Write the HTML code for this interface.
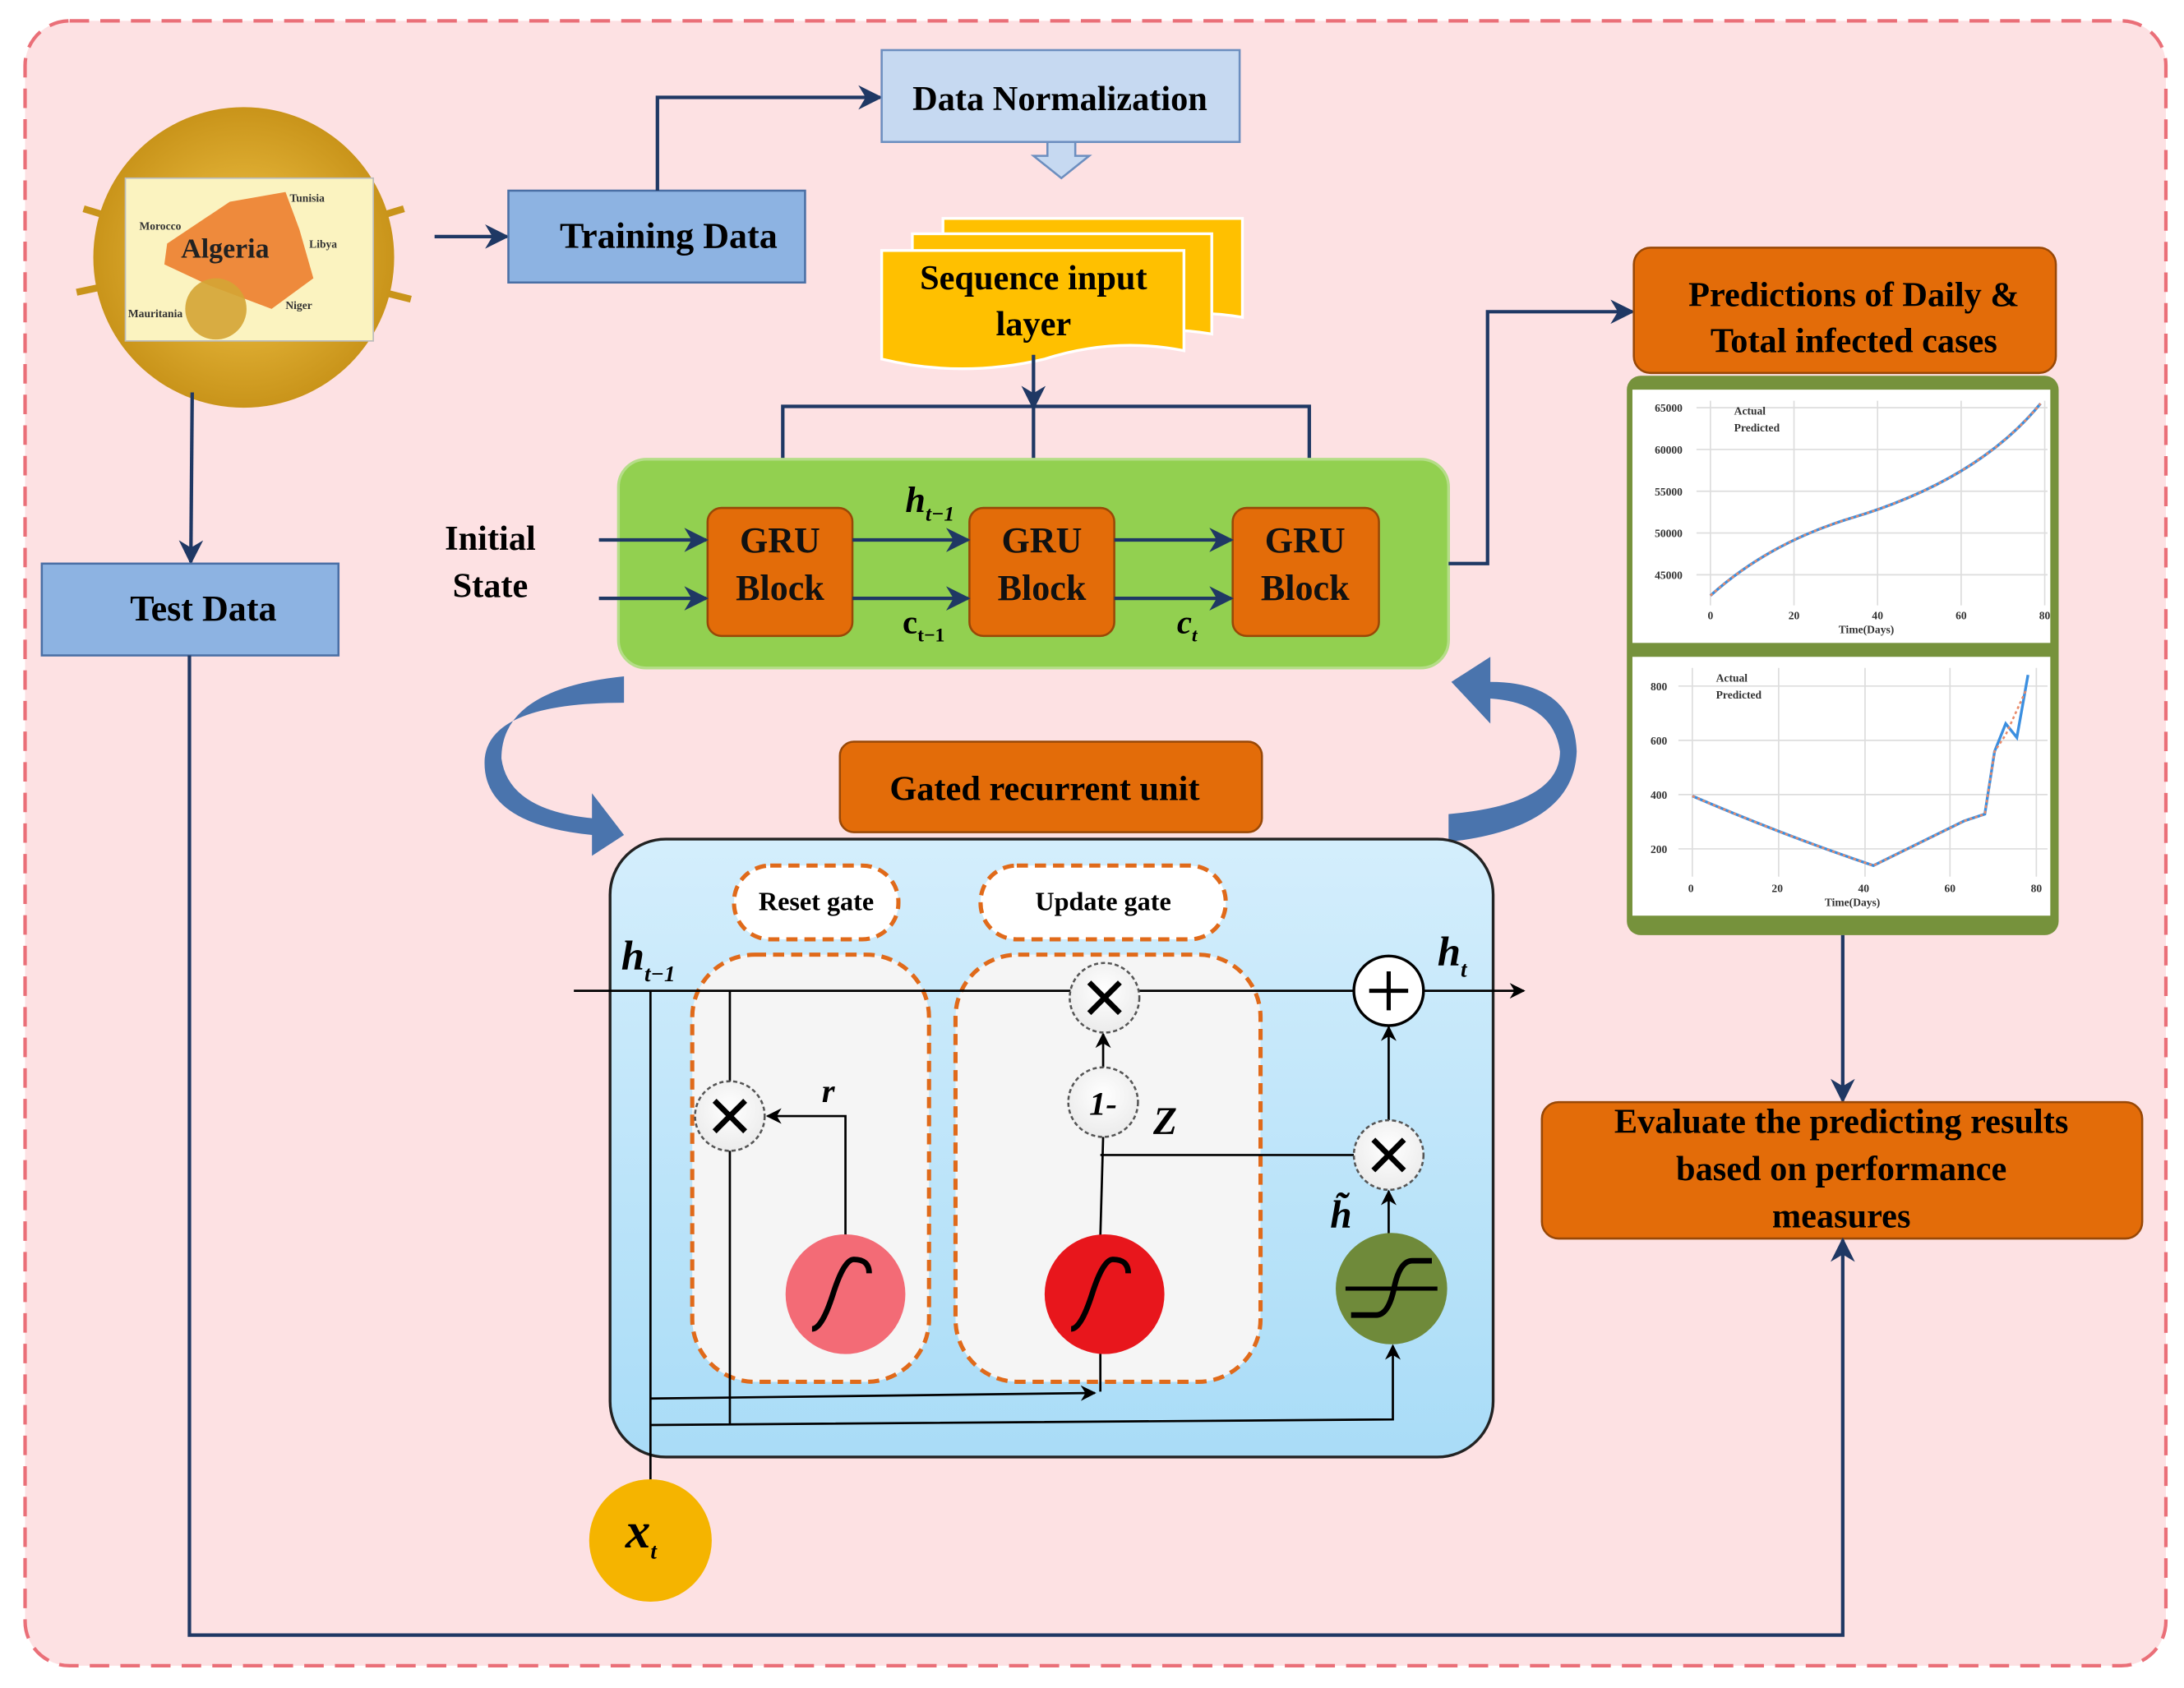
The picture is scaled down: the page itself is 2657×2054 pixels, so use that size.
<!DOCTYPE html>
<html><head><meta charset="utf-8"><style>
html,body{margin:0;padding:0;background:#fff;}
svg{display:block;}
text{font-family:"Liberation Serif",serif;font-weight:bold;}
</style></head><body>
<svg width="2657" height="2054" viewBox="0 0 1568 1213" preserveAspectRatio="none" xmlns="http://www.w3.org/2000/svg">
<defs>
<marker id="ar" viewBox="0 0 10 10" refX="9" refY="5" markerWidth="7" markerHeight="7" orient="auto"><path d="M0,0 L10,5 L0,10 L3,5 z" fill="#1f3864"/></marker>
<marker id="ak" viewBox="0 0 10 10" refX="9" refY="5" markerWidth="7" markerHeight="7" orient="auto"><path d="M0,0 L10,5 L0,10 L3,5 z" fill="#000"/></marker>
<linearGradient id="gb" x1="0" y1="0" x2="0" y2="1"><stop offset="0" stop-color="#d4eefc"/><stop offset="1" stop-color="#a9dcf7"/></linearGradient>
<radialGradient id="gw" cx="0.5" cy="0.4" r="0.7"><stop offset="0" stop-color="#fff"/><stop offset="1" stop-color="#e8e8e8"/></radialGradient>
<radialGradient id="vir" cx="0.5" cy="0.5" r="0.5"><stop offset="0" stop-color="#f3c64a"/><stop offset="1" stop-color="#c9941a"/></radialGradient>
</defs>
<rect x="18" y="15" width="1537" height="1182" rx="32" fill="#fde1e3" stroke="#ea6f78" stroke-width="2.5" stroke-dasharray="14,8"/>

<!-- virus map -->
<g stroke="#c9941a" stroke-width="5">
<line x1="175" y1="185" x2="60" y2="150"/><line x1="175" y1="185" x2="290" y2="150"/><line x1="175" y1="185" x2="55" y2="210"/><line x1="175" y1="185" x2="295" y2="215"/><line x1="175" y1="185" x2="140" y2="95"/><line x1="175" y1="185" x2="230" y2="100"/><line x1="175" y1="185" x2="120" y2="270"/><line x1="175" y1="185" x2="235" y2="272"/>
</g>
<circle cx="175" cy="185" r="108" fill="url(#vir)"/>
<rect x="90" y="128" width="178" height="117" fill="#fbf3c0" stroke="#bbb"/>
<path d="M120,175 L165,145 L205,138 L215,165 L225,200 L195,222 L150,205 L118,190 z" fill="#ee8a3c"/>
<circle cx="155" cy="222" r="22" fill="#d4a434" opacity="0.9"/>
<text x="130" y="185" font-size="20" fill="#222">Algeria</text>
<text x="100" y="165" font-size="8" font-weight="normal" fill="#333">Morocco</text>
<text x="222" y="178" font-size="8" font-weight="normal" fill="#333">Libya</text>
<text x="92" y="228" font-size="8" font-weight="normal" fill="#333">Mauritania</text>
<text x="205" y="222" font-size="8" font-weight="normal" fill="#333">Niger</text>
<text x="208" y="145" font-size="8" font-weight="normal" fill="#333">Tunisia</text>

<line x1="312" y1="170" x2="364" y2="170" stroke="#1f3864" stroke-width="2.5" marker-end="url(#ar)"/>
<rect x="365" y="137" width="213" height="66" fill="#8db3e2" stroke="#4a6fa5" stroke-width="1.5"/>
<text x="480" y="178" font-size="26" text-anchor="middle">Training Data</text>
<polyline points="472,137 472,70 632,70" fill="none" stroke="#1f3864" stroke-width="2.5" marker-end="url(#ar)"/>
<rect x="633" y="36" width="257" height="66" fill="#c6d9f1" stroke="#6c8ebf" stroke-width="1.5"/>
<text x="761" y="79" font-size="25" text-anchor="middle">Data Normalization</text>
<path d="M752,102 L772,102 L772,112 L782,112 L762,128 L742,112 L752,112 z" fill="#c6d9f1" stroke="#6c8ebf" stroke-width="1.5"/>

<!-- sequence input -->
<path d="M677,157 L892,157 L892,228 Q845,220 800,235 Q740,248 677,235 z" fill="#ffc000" stroke="#fff" stroke-width="2"/>
<path d="M655,168 L870,168 L870,240 Q823,232 778,247 Q718,260 655,247 z" fill="#ffc000" stroke="#fff" stroke-width="2"/>
<path d="M633,180 L850,180 L850,252 Q800,242 750,258 Q690,272 633,258 z" fill="#ffc000" stroke="#fff" stroke-width="2"/>
<text x="742" y="208" font-size="25" text-anchor="middle">Sequence input</text>
<text x="742" y="241" font-size="25" text-anchor="middle">layer</text>
<line x1="742" y1="255" x2="742" y2="293" stroke="#1f3864" stroke-width="2.5" marker-end="url(#ar)"/>
<polyline points="562,365 562,292 940,292 940,365" fill="none" stroke="#1f3864" stroke-width="2.5"/>
<line x1="742" y1="292" x2="742" y2="365" stroke="#1f3864" stroke-width="2.5"/>

<!-- green -->
<rect x="444" y="330" width="596" height="150" rx="20" fill="#92d050" stroke="#b5dd88" stroke-width="2"/>
<g fill="#e36c09" stroke="#984807" stroke-width="1.5">
<rect x="508" y="365" width="104" height="92" rx="10"/><rect x="696" y="365" width="104" height="92" rx="10"/><rect x="885" y="365" width="105" height="92" rx="10"/>
</g>
<g font-size="26" text-anchor="middle" fill="#111">
<text x="560" y="397">GRU</text><text x="560" y="431">Block</text>
<text x="748" y="397">GRU</text><text x="748" y="431">Block</text>
<text x="937" y="397">GRU</text><text x="937" y="431">Block</text>
</g>
<g stroke="#1f3864" stroke-width="2.5" marker-end="url(#ar)">
<line x1="430" y1="388" x2="507" y2="388"/><line x1="430" y1="430" x2="507" y2="430"/>
<line x1="612" y1="388" x2="695" y2="388"/><line x1="612" y1="430" x2="695" y2="430"/>
<line x1="800" y1="388" x2="884" y2="388"/><line x1="800" y1="430" x2="884" y2="430"/>
</g>
<text x="352" y="395" font-size="25" text-anchor="middle">Initial</text>
<text x="352" y="429" font-size="25" text-anchor="middle">State</text>
<text x="650" y="368" font-size="26" font-style="italic" font-weight="normal">h<tspan font-size="15" dy="6">t−1</tspan></text>
<text x="648" y="455" font-size="24" font-weight="normal">c<tspan font-size="14" dy="6">t−1</tspan></text>
<text x="845" y="455" font-size="24" font-style="italic" font-weight="normal">c<tspan font-size="14" dy="6">t</tspan></text>

<polyline points="1040,405 1068,405 1068,224 1172,224" fill="none" stroke="#1f3864" stroke-width="2.5" marker-end="url(#ar)"/>
<rect x="1173" y="178" width="303" height="90" rx="12" fill="#e36c09" stroke="#984807" stroke-width="1.5"/>
<text x="1331" y="220" font-size="25" text-anchor="middle">Predictions of Daily &amp;</text>
<text x="1331" y="253" font-size="25" text-anchor="middle">Total infected cases</text>

<!-- charts -->
<rect x="1168" y="270" width="310" height="402" rx="10" fill="#76923c"/>
<rect x="1172" y="280" width="300" height="182" fill="#fff"/>
<rect x="1172" y="472" width="300" height="186" fill="#fff"/>
<g stroke="#ddd" stroke-width="1">
<line x1="1228" y1="288" x2="1228" y2="435"/><line x1="1288" y1="288" x2="1288" y2="435"/><line x1="1348" y1="288" x2="1348" y2="435"/><line x1="1408" y1="288" x2="1408" y2="435"/><line x1="1468" y1="288" x2="1468" y2="435"/>
<line x1="1218" y1="293" x2="1470" y2="293"/><line x1="1218" y1="323" x2="1470" y2="323"/><line x1="1218" y1="353" x2="1470" y2="353"/><line x1="1218" y1="383" x2="1470" y2="383"/><line x1="1218" y1="413" x2="1470" y2="413"/>
<line x1="1215" y1="480" x2="1215" y2="630"/><line x1="1277" y1="480" x2="1277" y2="630"/><line x1="1339" y1="480" x2="1339" y2="630"/><line x1="1400" y1="480" x2="1400" y2="630"/><line x1="1462" y1="480" x2="1462" y2="630"/>
<line x1="1205" y1="493" x2="1470" y2="493"/><line x1="1205" y1="532" x2="1470" y2="532"/><line x1="1205" y1="571" x2="1470" y2="571"/><line x1="1205" y1="610" x2="1470" y2="610"/>
</g>
<path d="M1228,428 Q1270,390 1330,372 Q1420,345 1465,290" fill="none" stroke="#3b8fe0" stroke-width="2"/>
<path d="M1228,428 Q1270,390 1330,372 Q1420,345 1465,290" fill="none" stroke="#e88a6a" stroke-width="1.5" stroke-dasharray="2,2"/>
<path d="M1215,572 Q1280,600 1345,622 Q1390,600 1410,590 L1425,585 L1432,540 L1440,520 L1448,530 L1456,485" fill="none" stroke="#3b8fe0" stroke-width="2"/>
<path d="M1215,572 Q1280,600 1345,622 Q1390,600 1410,590 L1425,585 L1432,540 L1440,528 L1455,495" fill="none" stroke="#e88a6a" stroke-width="1.5" stroke-dasharray="2,2"/>
<g font-family="Liberation Sans" font-size="8" font-weight="normal" fill="#333">
<text x="1188" y="296">65000</text><text x="1188" y="326">60000</text><text x="1188" y="356">55000</text><text x="1188" y="386">50000</text><text x="1188" y="416">45000</text>
<text x="1226" y="445">0</text><text x="1284" y="445">20</text><text x="1344" y="445">40</text><text x="1404" y="445">60</text><text x="1464" y="445">80</text>
<text x="1320" y="455">Time(Days)</text><text x="1245" y="298">Actual</text><text x="1245" y="310">Predicted</text>
<text x="1185" y="496">800</text><text x="1185" y="535">600</text><text x="1185" y="574">400</text><text x="1185" y="613">200</text>
<text x="1212" y="641">0</text><text x="1272" y="641">20</text><text x="1334" y="641">40</text><text x="1396" y="641">60</text><text x="1458" y="641">80</text>
<text x="1310" y="651">Time(Days)</text><text x="1232" y="490">Actual</text><text x="1232" y="502">Predicted</text>
</g>

<line x1="1323" y1="672" x2="1323" y2="791" stroke="#1f3864" stroke-width="2.5" marker-end="url(#ar)"/>
<rect x="1107" y="792" width="431" height="98" rx="12" fill="#e36c09" stroke="#984807" stroke-width="1.5"/>
<text x="1322" y="814" font-size="25" text-anchor="middle">Evaluate the predicting results</text>
<text x="1322" y="848" font-size="25" text-anchor="middle">based on performance</text>
<text x="1322" y="882" font-size="25" text-anchor="middle">measures</text>

<line x1="138" y1="282" x2="137" y2="404" stroke="#1f3864" stroke-width="2.5" marker-end="url(#ar)"/>
<rect x="30" y="405" width="213" height="66" fill="#8db3e2" stroke="#4a6fa5" stroke-width="1.5"/>
<text x="146" y="446" font-size="26" text-anchor="middle">Test Data</text>
<polyline points="136,471 136,1175 1323,1175 1323,891" fill="none" stroke="#1f3864" stroke-width="2.5" marker-end="url(#ar)"/>

<!-- curved arrows -->
<path d="M448,486 Q360,495 360,545 Q365,582 425,588 L425,570 L448,600 L425,615 L425,600 Q345,592 348,545 Q352,505 448,505 z" fill="#4a74ad"/>
<path d="M1040,585 Q1120,578 1120,540 Q1115,505 1070,502 L1070,520 L1042,490 L1070,472 L1070,490 Q1130,490 1132,540 Q1130,595 1040,605 z" fill="#4a74ad"/>

<rect x="603" y="533" width="303" height="65" rx="10" fill="#e36c09" stroke="#984807" stroke-width="1.5"/>
<text x="750" y="575" font-size="25" text-anchor="middle">Gated recurrent unit</text>

<!-- GRU cell -->
<rect x="438" y="603" width="634" height="444" rx="40" fill="url(#gb)" stroke="#222" stroke-width="2"/>
<rect x="527" y="622" width="118" height="53" rx="26" fill="#fff" stroke="#e06a1a" stroke-width="3" stroke-dasharray="8,5"/>
<rect x="704" y="622" width="176" height="53" rx="26" fill="#fff" stroke="#e06a1a" stroke-width="3" stroke-dasharray="8,5"/>
<text x="586" y="654" font-size="19" text-anchor="middle">Reset gate</text>
<text x="792" y="654" font-size="19" text-anchor="middle">Update gate</text>
<rect x="497" y="686" width="170" height="307" rx="45" fill="#f5f5f5" stroke="#e06a1a" stroke-width="3" stroke-dasharray="8,5"/>
<rect x="686" y="686" width="219" height="307" rx="45" fill="#f5f5f5" stroke="#e06a1a" stroke-width="3" stroke-dasharray="8,5"/>

<g stroke="#000" stroke-width="1.6" fill="none">
<line x1="412" y1="712" x2="1094" y2="712" marker-end="url(#ak)"/>
<line x1="467" y1="1065" x2="467" y2="712"/>
<line x1="524" y1="712" x2="524" y2="1024"/>
<line x1="467" y1="1005" x2="786" y2="1001" marker-end="url(#ak)"/>
<polyline points="467,1024 1000,1020 1000,967" marker-end="url(#ak)"/>
<polyline points="607,888 607,802 551,802" marker-end="url(#ak)"/>
<line x1="790" y1="888" x2="790" y2="1000"/>
<line x1="790" y1="888" x2="792" y2="817"/>
<line x1="792" y1="767" x2="792" y2="743" marker-end="url(#ak)"/>
<line x1="790" y1="830" x2="972" y2="830"/>
<line x1="997" y1="888" x2="997" y2="856" marker-end="url(#ak)"/>
<line x1="997" y1="805" x2="997" y2="738" marker-end="url(#ak)"/>
</g>
<g stroke="#555" stroke-width="1.5" stroke-dasharray="3,2" fill="url(#gw)">
<circle cx="793" cy="717" r="25"/><circle cx="524" cy="802" r="25"/><circle cx="792" cy="792" r="25"/><circle cx="997" cy="830" r="25"/>
</g>
<circle cx="997" cy="712" r="25" fill="#fff" stroke="#000" stroke-width="2"/>
<g stroke="#000" stroke-width="4">
<line x1="782" y1="706" x2="804" y2="728"/><line x1="804" y1="706" x2="782" y2="728"/>
<line x1="513" y1="791" x2="535" y2="813"/><line x1="535" y1="791" x2="513" y2="813"/>
<line x1="986" y1="819" x2="1008" y2="841"/><line x1="1008" y1="819" x2="986" y2="841"/>
<line x1="983" y1="712" x2="1011" y2="712" stroke-width="3"/><line x1="997" y1="698" x2="997" y2="726" stroke-width="3"/>
</g>
<text x="792" y="801" font-size="24" text-anchor="middle" font-style="italic">1-</text>
<text x="590" y="792" font-size="24" font-style="italic">r</text>
<text x="828" y="815" font-size="28" font-style="italic" font-weight="normal">Z</text>
<text x="955" y="882" font-size="28" font-style="italic" font-weight="normal">h̃</text>
<text x="446" y="697" font-size="30" font-style="italic" font-weight="normal">h<tspan font-size="16" dy="8">t−1</tspan></text>
<text x="1032" y="694" font-size="30" font-style="italic" font-weight="normal">h<tspan font-size="16" dy="8">t</tspan></text>

<circle cx="607" cy="930" r="43" fill="#f36b76"/>
<circle cx="793" cy="930" r="43" fill="#e8161c"/>
<circle cx="999" cy="926" r="40" fill="#6f8a3a"/>
<g stroke="#000" stroke-width="4" fill="none">
<path d="M583,955 Q590,955 598,930 Q606,905 613,905 Q624,905 624,915"/>
<path d="M769,955 Q776,955 784,930 Q792,905 799,905 Q810,905 810,915"/>
<path d="M970,945 L988,945 Q997,945 1001,925 Q1005,906 1014,906 L1028,906"/>
<line x1="966" y1="926" x2="1032" y2="926" stroke-width="3"/>
</g>
<circle cx="467" cy="1107" r="44" fill="#f5b400"/>
<text x="449" y="1112" font-size="36" font-style="italic" font-weight="normal">x<tspan font-size="16" dy="8">t</tspan></text>
</svg>
</body></html>
